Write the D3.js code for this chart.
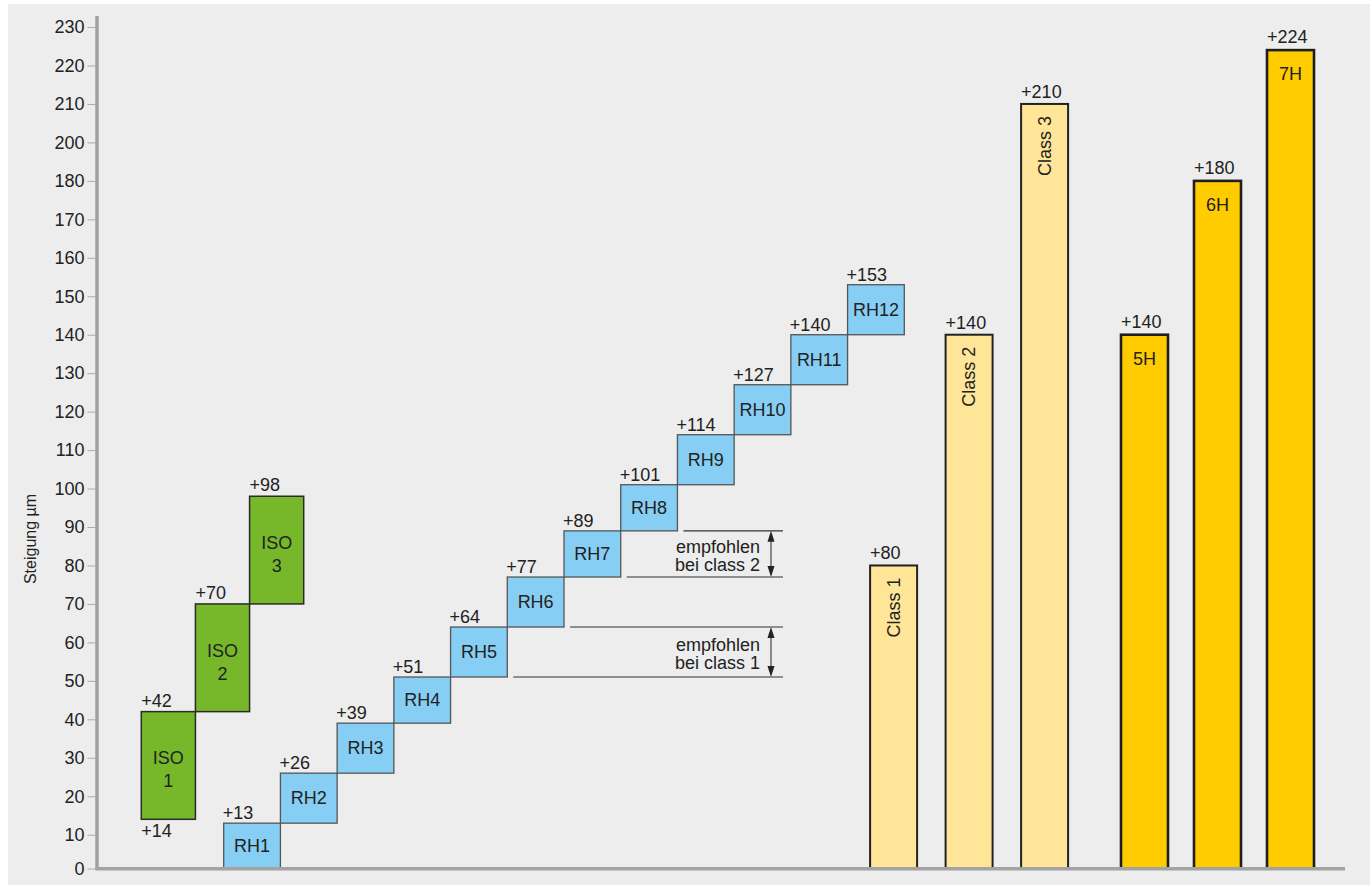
<!DOCTYPE html>
<html>
<head>
<meta charset="utf-8">
<script src="https://cdn.jsdelivr.net/npm/d3@7"></script>
<style>
  html, body { margin: 0; padding: 0; background: #ffffff; }
  svg { display: block; }
  text { font-family: "Liberation Sans", Arial, Helvetica, sans-serif; fill: #222; }
</style>
</head>
<body>
<script>
// ---------- data ----------
const yTickLabels = [0,10,20,30,40,50,60,70,80,90,100,110,120,130,140,150,160,170,180,200,210,220,230];

const isoNames = ["ISO 1", "ISO 2", "ISO 3"];
const isoLow   = [14, 42, 70];
const isoHigh  = [42, 70, 98];

const rhNames = ["RH1","RH2","RH3","RH4","RH5","RH6","RH7","RH8","RH9","RH10","RH11","RH12"];
const rhHigh  = [13, 26, 39, 51, 64, 77, 89, 101, 114, 127, 140, 153];

const classNames  = ["Class 1", "Class 2", "Class 3"];
const classValues = [80, 140, 210];

const hNames  = ["5H", "6H", "7H"];
const hValues = [140, 180, 224];

const noteLines = [["empfohlen", "bei class 1"], ["empfohlen", "bei class 2"]];
const noteFrom  = ["RH5", "RH7"];
const noteTo    = ["RH6", "RH8"];

const yTitle = "Steigung µm";

// ---------- layout ----------
const W = 1370, H = 885;
const FS = 18;
const svg = d3.select("body").append("svg").attr("width", W).attr("height", H);

svg.append("rect").attr("x", 0).attr("y", 0).attr("width", W).attr("height", H).attr("fill", "#ffffff");
svg.append("rect").attr("x", 8).attr("y", 4).attr("width", W - 8).attr("height", H - 4).attr("fill", "#ededed");

// y scale reproduces the printed axis (tick spacing as drawn)
const Y0 = 868.5, Y10 = 834.7, STEP = 38.46;
const y = d3.scaleLinear()
  .domain(yTickLabels)
  .range(yTickLabels.map((v, i) => i === 0 ? Y0 : Y10 - (i - 1) * STEP));

// x scales per group
const xIso = d3.scaleBand().domain(isoNames).range([141.3, 303.7]).padding(0);
const xRh  = d3.scaleBand().domain(rhNames).range([223.7, 904.3]).padding(0);
const pC = 1 - 47 / 75.5;
const xClass = d3.scaleBand().domain(classNames).range([855.85, 1082.35]).paddingInner(pC).paddingOuter(pC / 2);
const pH = 1 - 47 / 73;
const xH = d3.scaleBand().domain(hNames).range([1108, 1327]).paddingInner(pH).paddingOuter(pH / 2);

// ---------- axis ----------
const axisG = svg.append("g").attr("transform", "translate(95.5,0)")
  .call(d3.axisLeft(y).tickValues(yTickLabels).tickSize(8).tickPadding(3).tickFormat(d3.format("d")));
axisG.select(".domain").remove();
axisG.selectAll(".tick line").attr("stroke", "#aaaaaa").attr("stroke-width", 1);
axisG.selectAll(".tick text").attr("font-size", FS).attr("fill", "#222")
  .attr("font-family", '"Liberation Sans", Arial, sans-serif');

svg.append("line").attr("x1", 97).attr("x2", 97).attr("y1", 16).attr("y2", 870)
  .attr("stroke", "#a0a0a0").attr("stroke-width", 3.5);

svg.append("text")
  .attr("transform", "translate(36,539) rotate(-90)")
  .attr("text-anchor", "middle").attr("font-size", 16)
  .text(yTitle);

// ---------- ISO boxes ----------
const gIso = svg.append("g");
isoNames.forEach((n, i) => {
  const x0 = xIso(n), bw = xIso.bandwidth();
  const yt = y(isoHigh[i]), yb = y(isoLow[i]);
  gIso.append("rect").attr("x", x0).attr("y", yt).attr("width", bw).attr("height", yb - yt)
    .attr("fill", "#76b82a").attr("stroke", "#2a2a2a").attr("stroke-width", 1.5);
  gIso.append("text").attr("x", x0).attr("y", yt - 5).attr("font-size", FS).text("+" + isoHigh[i]);
  if (i === 0) {
    gIso.append("text").attr("x", x0).attr("y", yb + 18).attr("font-size", FS).text("+" + isoLow[i]);
  }
  const cy = (yt + yb) / 2;
  const parts = n.split(" ");
  gIso.append("text").attr("x", x0 + bw / 2).attr("y", cy - 1).attr("text-anchor", "middle")
    .attr("font-size", FS).text(parts[0]);
  gIso.append("text").attr("x", x0 + bw / 2).attr("y", cy + 22).attr("text-anchor", "middle")
    .attr("font-size", FS).text(parts[1]);
});

// ---------- RH boxes ----------
const gRh = svg.append("g");
const rhLow = rhHigh.map((v, i) => i === 0 ? 0 : rhHigh[i - 1]);
rhNames.forEach((n, i) => {
  const x0 = xRh(n), bw = xRh.bandwidth();
  const yt = y(rhHigh[i]), yb = y(rhLow[i]);
  gRh.append("rect").attr("x", x0).attr("y", yt).attr("width", bw).attr("height", yb - yt)
    .attr("fill", "#87cef5").attr("stroke", "#555").attr("stroke-width", 1.3);
});
rhNames.forEach((n, i) => {
  const x0 = xRh(n), bw = xRh.bandwidth();
  const yt = y(rhHigh[i]), yb = y(rhLow[i]);
  gRh.append("text").attr("x", x0 - 1).attr("y", yt - 4).attr("font-size", FS).text("+" + rhHigh[i]);
  gRh.append("text").attr("x", x0 + bw / 2).attr("y", (yt + yb) / 2).attr("dy", "0.35em")
    .attr("text-anchor", "middle").attr("font-size", FS).text(n);
});

// ---------- recommendation annotations ----------
const gNote = svg.append("g");
const lineEnd = 783, arrowX = 771, textRight = 760;
noteLines.forEach((lines, k) => {
  const iFrom = rhNames.indexOf(noteFrom[k]);
  const iTo = rhNames.indexOf(noteTo[k]);
  const vLow = rhLow[iFrom], vHigh = rhLow[iTo];
  const yl = y(vLow), yh = y(vHigh);
  gNote.append("line").attr("x1", xRh(noteFrom[k]) + xRh.bandwidth() + 6).attr("x2", lineEnd)
    .attr("y1", yl).attr("y2", yl).attr("stroke", "#333").attr("stroke-width", 1.2);
  gNote.append("line").attr("x1", xRh(noteTo[k]) + xRh.bandwidth() + 6).attr("x2", lineEnd)
    .attr("y1", yh).attr("y2", yh).attr("stroke", "#333").attr("stroke-width", 1.2);
  gNote.append("line").attr("x1", arrowX).attr("x2", arrowX).attr("y1", yh + 8).attr("y2", yl - 8)
    .attr("stroke", "#444").attr("stroke-width", 1.2);
  gNote.append("path").attr("d", `M${arrowX},${yh} L${arrowX - 3.5},${yh + 11} L${arrowX + 3.5},${yh + 11} Z`)
    .attr("fill", "#222");
  gNote.append("path").attr("d", `M${arrowX},${yl} L${arrowX - 3.5},${yl - 11} L${arrowX + 3.5},${yl - 11} Z`)
    .attr("fill", "#222");
  const mid = (yl + yh) / 2;
  gNote.append("text").attr("x", textRight).attr("y", mid - 1).attr("text-anchor", "end")
    .attr("font-size", FS).text(lines[0]);
  gNote.append("text").attr("x", textRight).attr("y", mid + 17).attr("text-anchor", "end")
    .attr("font-size", FS).text(lines[1]);
});

// ---------- Class bars ----------
const gClass = svg.append("g");
classNames.forEach((n, i) => {
  const x0 = xClass(n), bw = xClass.bandwidth();
  const yt = y(classValues[i]), yb = y(0);
  gClass.append("rect").attr("x", x0).attr("y", yt).attr("width", bw).attr("height", yb - yt)
    .attr("fill", "#fee597").attr("stroke", "#222").attr("stroke-width", 2);
  gClass.append("text").attr("x", x0).attr("y", yt - 6).attr("font-size", FS).text("+" + classValues[i]);
  gClass.append("text")
    .attr("transform", `translate(${x0 + bw / 2},${yt + 12}) rotate(-90)`)
    .attr("dy", "0.35em").attr("text-anchor", "end").attr("font-size", FS).text(n);
});

// ---------- H bars ----------
const gH = svg.append("g");
hNames.forEach((n, i) => {
  const x0 = xH(n), bw = xH.bandwidth();
  const yt = y(hValues[i]), yb = y(0);
  gH.append("rect").attr("x", x0).attr("y", yt).attr("width", bw).attr("height", yb - yt)
    .attr("fill", "#ffcc00").attr("stroke", "#1e1e1e").attr("stroke-width", 2.6);
  gH.append("text").attr("x", x0).attr("y", yt - 7).attr("font-size", FS).text("+" + hValues[i]);
  gH.append("text").attr("x", x0 + bw / 2).attr("y", yt + 30).attr("text-anchor", "middle")
    .attr("font-size", FS).text(n);
});

// ---------- baseline ----------
svg.append("line").attr("x1", 95.5).attr("x2", 1345).attr("y1", 868.7).attr("y2", 868.7)
  .attr("stroke", "#a3a3a3").attr("stroke-width", 3.5);
</script>
</body>
</html>
